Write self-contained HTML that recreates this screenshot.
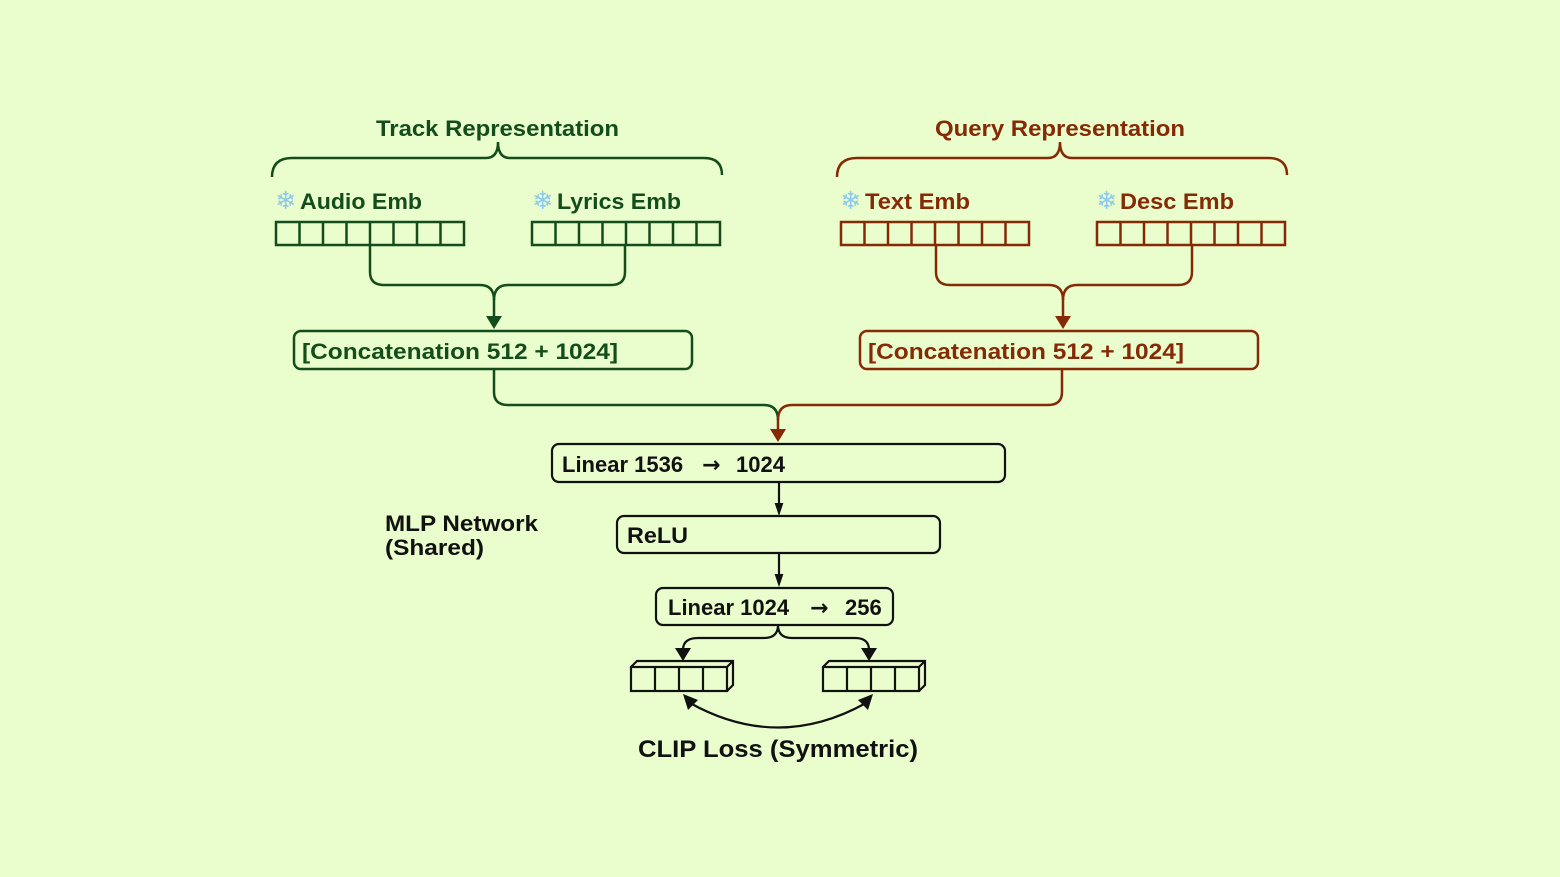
<!DOCTYPE html>
<html><head><meta charset="utf-8"><style>
html,body{margin:0;padding:0;background:#e9fdcd;}
svg{display:block}
text{font-family:"Liberation Sans","DejaVu Sans",sans-serif;font-weight:bold;}
</style></head><body>
<svg width="1560" height="877" viewBox="0 0 1560 877" xmlns="http://www.w3.org/2000/svg">
<rect width="1560" height="877" fill="#e9fdcd"/>
<!-- GREEN -->
<g stroke="#134d1b" stroke-width="2.5" fill="none">
<path d="M272,177 Q272,158 292,158 L486,158 Q498,158 498,142 Q498,158 510,158 L704,158 Q722,158 722,175"/>
<rect x="276" y="222" width="188" height="23"/>
<path d="M299.5,222v23M323,222v23M346.5,222v23M370,222v23M393.5,222v23M417,222v23M440.5,222v23"/>
<rect x="532" y="222" width="188" height="23"/>
<path d="M555.5,222v23M579,222v23M602.5,222v23M626,222v23M649.5,222v23M673,222v23M696.5,222v23"/>
<path d="M370,245 L370,272 Q370,285 384,285 L480,285 Q494,285 494,300 Q494,285 508,285 L611,285 Q625,285 625,272 L625,245"/>
<path d="M494,298 L494,318"/>
<rect x="294" y="331" width="398" height="38" rx="7"/>
<path d="M494,369 L494,392 Q494,405 508,405 L764,405 Q778,405 778,420"/>
</g>
<path d="M486,316 L502,316 L494,329 z" fill="#134d1b"/>
<g fill="#134d1b">
<text x="376" y="136" font-size="22" textLength="243" lengthAdjust="spacingAndGlyphs">Track Representation</text>
<text x="300" y="209" font-size="22" textLength="122" lengthAdjust="spacingAndGlyphs">Audio Emb</text>
<text x="557" y="209" font-size="22" textLength="124" lengthAdjust="spacingAndGlyphs">Lyrics Emb</text>
<text x="302" y="359" font-size="22" textLength="316" lengthAdjust="spacingAndGlyphs">[Concatenation 512 + 1024]</text>
</g>
<g font-size="25" fill="#8cc8ee" style="font-family:'DejaVu Sans',sans-serif">
<text x="275" y="209" style="font-weight:normal">❄</text>
<text x="532" y="209" style="font-weight:normal">❄</text>
<text x="840" y="209" style="font-weight:normal">❄</text>
<text x="1096" y="209" style="font-weight:normal">❄</text>
</g>
<!-- RED -->
<g stroke="#862a06" stroke-width="2.5" fill="none">
<path d="M837,177 Q837,158 857,158 L1048,158 Q1060,158 1060,142 Q1060,158 1072,158 L1268,158 Q1287,158 1287,175"/>
<rect x="841" y="222" width="188" height="23"/>
<path d="M864.5,222v23M888,222v23M911.5,222v23M935,222v23M958.5,222v23M982,222v23M1005.5,222v23"/>
<rect x="1097" y="222" width="188" height="23"/>
<path d="M1120.5,222v23M1144,222v23M1167.5,222v23M1191,222v23M1214.5,222v23M1238,222v23M1261.5,222v23"/>
<path d="M936,245 L936,272 Q936,285 950,285 L1049,285 Q1063,285 1063,300 Q1063,285 1077,285 L1178,285 Q1192,285 1192,272 L1192,245"/>
<path d="M1063,298 L1063,318"/>
<rect x="860" y="331" width="398" height="38" rx="7"/>
<path d="M1062,369 L1062,392 Q1062,405 1048,405 L792,405 Q778,405 778,420 L778,430"/>
</g>
<path d="M1055,316 L1071,316 L1063,329 z" fill="#862a06"/>
<path d="M770,429 L786,429 L778,442 z" fill="#862a06"/>
<g fill="#862a06">
<text x="935" y="136" font-size="22" textLength="250" lengthAdjust="spacingAndGlyphs">Query Representation</text>
<text x="865" y="209" font-size="22" textLength="105" lengthAdjust="spacingAndGlyphs">Text Emb</text>
<text x="1120" y="209" font-size="22" textLength="114" lengthAdjust="spacingAndGlyphs">Desc Emb</text>
<text x="868" y="359" font-size="22" textLength="316" lengthAdjust="spacingAndGlyphs">[Concatenation 512 + 1024]</text>
</g>
<!-- BLACK -->
<g stroke="#111" stroke-width="2.2" fill="none">
<rect x="552" y="444" width="453" height="38" rx="7"/>
<path d="M779,482 L779,506"/>
<rect x="617" y="516" width="323" height="37" rx="7"/>
<path d="M779,553 L779,577"/>
<rect x="656" y="588" width="237" height="37" rx="7"/>
<path d="M778,625 Q778,638 764,638 L698,638 Q683,638 683,650"/>
<path d="M778,625 Q778,638 792,638 L855,638 Q869,638 869,650"/>
<rect x="631" y="667" width="96" height="24"/>
<path d="M655,667v24M679,667v24M703,667v24M631,667 L637,661 L733,661 L733,685 L727,691 M727,667 L733,661"/>
<rect x="823" y="667" width="96" height="24"/>
<path d="M847,667v24M871,667v24M895,667v24M823,667 L829,661 L925,661 L925,685 L919,691 M919,667 L925,661"/>
<path d="M690,703 Q778,752 866,703"/>
</g>
<g fill="#111">
<path d="M776,504 L782,504 L779,513 z" stroke="#111" stroke-width="2"/>
<path d="M776,575 L782,575 L779,584 z" stroke="#111" stroke-width="2"/>
<path d="M675,648 L691,648 L683,661 z"/>
<path d="M861,648 L877,648 L869,661 z"/>
<path d="M683,694 L698,700 L688,710 z"/>
<path d="M873,694 L858,700 L868,710 z"/>
<text x="562" y="472" font-size="22">Linear 1536</text>
<text x="702" y="472" font-size="22" style="font-family:'DejaVu Sans',sans-serif">→</text>
<text x="736" y="472" font-size="22">1024</text>
<text x="668" y="615" font-size="22">Linear 1024</text>
<text x="810" y="615" font-size="22" style="font-family:'DejaVu Sans',sans-serif">→</text>
<text x="845" y="615" font-size="22">256</text>
<text x="627" y="543" font-size="22" textLength="61" lengthAdjust="spacingAndGlyphs">ReLU</text>
<text x="385" y="531" font-size="22" textLength="153" lengthAdjust="spacingAndGlyphs">MLP Network</text>
<text x="385" y="555" font-size="22" textLength="99" lengthAdjust="spacingAndGlyphs">(Shared)</text>
<text x="638" y="757" font-size="24" textLength="280" lengthAdjust="spacingAndGlyphs">CLIP Loss (Symmetric)</text>
</g>
</svg>
</body></html>
